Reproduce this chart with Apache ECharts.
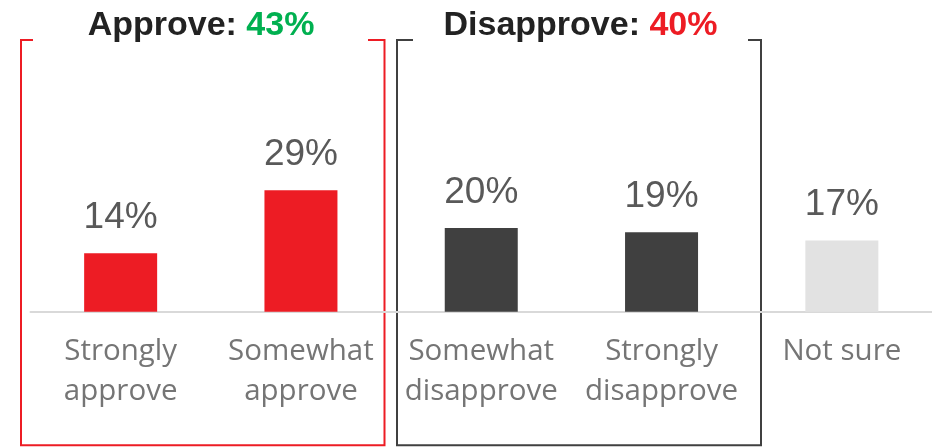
<!DOCTYPE html>
<html>
<head>
<meta charset="utf-8">
<script src="https://cdn.jsdelivr.net/npm/echarts@6/dist/echarts.min.js"></script>
<style>
html,body{margin:0;padding:0;background:#fff;}
#c{width:932px;height:447px;}
</style>
</head>
<body>
<div id="c"></div>
<script>
var categories = ['Strongly\napprove', 'Somewhat\napprove', 'Somewhat\ndisapprove', 'Strongly\ndisapprove', 'Not sure'];
var values = [14, 29, 20, 19, 17];
var barColors = ['#ED1C24', '#ED1C24', '#404040', '#404040', '#E2E2E2'];
var approveTotal = 43;
var disapproveTotal = 40;

var FONT_CAT = '"Open Sans", "Liberation Sans", sans-serif';
var FONT = '"Liberation Sans", Arial, sans-serif';
var chart = echarts.init(document.getElementById('c'), null, {renderer: 'canvas'});

var option = {
  animation: false,
  backgroundColor: '#ffffff',
  grid: {left: 30.5, width: 905, top: 0, height: 311.7, containLabel: false},
  xAxis: {
    type: 'category',
    data: categories,
    axisLine: {show: true, lineStyle: {color: '#D9D9D9', width: 2}},
    axisTick: {show: false},
    axisLabel: {
      color: '#757575', fontSize: 29.5, lineHeight: 40, margin: 20,
      fontFamily: FONT_CAT, interval: 0
    }
  },
  yAxis: {
    type: 'value', min: 0, max: 74.5,
    show: false, splitLine: {show: false}
  },
  series: [{
    type: 'bar',
    barWidth: 73,
    data: values.map(function (v, i) {
      return {value: v, itemStyle: {color: barColors[i]}};
    }),
    label: {
      show: true, position: 'top', distance: 17,
      formatter: function (p) { return p.value + '%'; },
      color: '#595959', fontSize: 37, fontFamily: FONT
    }
  }],
  graphic: [
    {
      type: 'polyline', silent: true,
      shape: {points: [[33, 40], [21, 40], [21, 445.3], [384.5, 445.3], [384.5, 40], [368, 40]]},
      style: {stroke: '#ED1C24', lineWidth: 2, fill: null}
    },
    {
      type: 'polyline', silent: true,
      shape: {points: [[413, 40], [397, 40], [397, 445.3], [761, 445.3], [761, 40], [748, 40]]},
      style: {stroke: '#404040', lineWidth: 2, fill: null}
    },
    {
      type: 'text', x: 201, y: 26,
      style: {
        text: '{t|Approve: }{g|' + approveTotal + '%}',
        align: 'center', verticalAlign: 'middle',
        rich: {
          t: {fontSize: 34, fontWeight: 'bold', fill: '#222222', fontFamily: FONT},
          g: {fontSize: 34, fontWeight: 'bold', fill: '#00B050', fontFamily: FONT}
        }
      }
    },
    {
      type: 'text', x: 580.5, y: 26,
      style: {
        text: '{t|Disapprove: }{r|' + disapproveTotal + '%}',
        align: 'center', verticalAlign: 'middle',
        rich: {
          t: {fontSize: 34, fontWeight: 'bold', fill: '#222222', fontFamily: FONT},
          r: {fontSize: 34, fontWeight: 'bold', fill: '#ED1C24', fontFamily: FONT}
        }
      }
    }
  ]
};
chart.setOption(option);
</script>
</body>
</html>
